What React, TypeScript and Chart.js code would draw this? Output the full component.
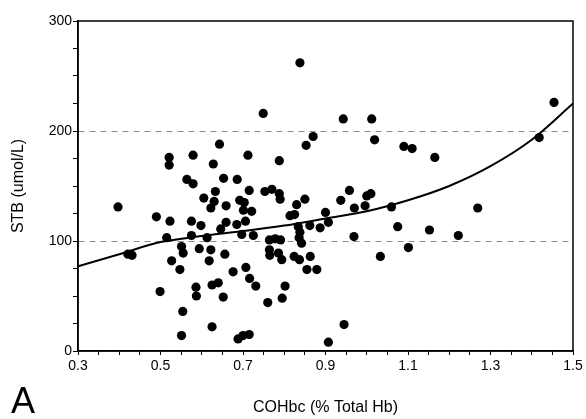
import React, { useEffect, useRef } from "react";
import { Chart, registerables } from "chart.js";

Chart.register(...registerables);

// COHbc (% Total Hb)
const cohbc = [
  0.838, 0.749, 0.943, 1.012, 1.454, 1.418, 0.853, 0.870, 1.019, 1.090,
  1.110, 1.165, 0.788, 0.643, 0.521, 0.521, 0.579, 0.628, 0.712, 0.564,
  0.579, 0.653, 0.686, 0.633, 0.605, 0.630, 0.622, 0.659, 0.692, 0.703,
  0.715, 0.701, 0.721, 0.753, 0.770, 0.788, 0.790, 0.850, 0.830, 0.814,
  0.825, 0.900, 0.937, 0.958, 1.000, 1.010, 0.970, 0.996, 1.060, 1.269,
  1.075, 1.152, 1.222, 1.101, 1.033, 0.397, 0.490, 0.523, 0.575, 0.598,
  0.659, 0.646, 0.685, 0.706, 0.515, 0.575, 0.613, 0.697, 0.725, 0.764,
  0.778, 0.791, 0.834, 0.838, 0.836, 0.842, 0.862, 0.887, 0.907, 0.969,
  0.551, 0.555, 0.594, 0.622, 0.618, 0.656, 0.527, 0.547, 0.676, 0.707,
  0.716, 0.731, 0.499, 0.586, 0.587, 0.625, 0.640, 0.652, 0.554, 0.625,
  0.551, 0.688, 0.700, 0.715, 0.760, 0.795, 0.802, 0.764, 0.765, 0.786,
  0.794, 0.824, 0.837, 0.863, 0.855, 0.879, 0.945, 0.907, 0.421, 0.431,
];

// STB (umol/L)
const stb = [
  262, 216, 211, 211, 226, 194, 187, 195, 192, 186,
  184, 176, 173, 188, 176, 169, 178, 170, 178, 156,
  152, 157, 156, 145, 139, 136, 130, 132, 137, 135,
  146, 128, 127, 145, 147, 143, 138, 138, 133, 123,
  124, 126, 137, 146, 141, 143, 130, 132, 131, 130,
  113, 110, 105, 94, 86, 131, 122, 118, 118, 114,
  117, 111, 115, 118, 103, 105, 103, 106, 105, 101,
  102, 101, 113, 108, 103, 98, 114, 112, 117, 104,
  95, 89, 93, 92, 82, 88, 82, 74, 72, 76,
  66, 59, 54, 58, 50, 60, 62, 49, 36, 22,
  14, 11, 14, 15, 44, 48, 59, 92, 87, 89,
  83, 86, 83, 86, 74, 74, 24, 8, 88, 87,
];

// Fitted curve
const curveX = [0.3, 0.4, 0.5, 0.6, 0.7, 0.8, 0.9, 1.0, 1.1, 1.2, 1.3, 1.4, 1.5];
const curveY = [77, 88, 99, 104.5, 109, 114, 120.5, 127, 137, 150, 168, 192, 225];

const xMajorTicks = [0.3, 0.5, 0.7, 0.9, 1.1, 1.3, 1.5];
const yMajorTicks = [0, 100, 200, 300];
const dashedLevels = [100, 200];

const xTitle = "COHbc (% Total Hb)";
const yTitle = "STB (umol/L)";
const panelLabel = "A";

const FONT = "'Liberation Sans', Arial, Helvetica, sans-serif";

export default function App() {
  const ref = useRef<HTMLCanvasElement | null>(null);

  useEffect(() => {
    if (!ref.current) return;
    Chart.defaults.font.family = FONT;
    Chart.defaults.color = "#000";

    const framePlugin = {
      id: "frame",
      afterDraw(chart: any) {
        const { ctx, chartArea: a } = chart;
        ctx.save();
        ctx.strokeStyle = "#000";
        ctx.lineWidth = 1.5;
        ctx.strokeRect(a.left, a.top, a.right - a.left, a.bottom - a.top);
        ctx.font = `36px ${FONT}`;
        ctx.fillStyle = "#000";
        ctx.textBaseline = "alphabetic";
        ctx.textAlign = "left";
        ctx.fillText(panelLabel, 11, 413);
        ctx.restore();
      },
    };

    const chart = new Chart(ref.current, {
      type: "scatter",
      data: {
        datasets: [
          {
            type: "line",
            data: curveX.map((x, i) => ({ x, y: curveY[i] })),
            borderColor: "#000",
            borderWidth: 2,
            pointRadius: 0,
            cubicInterpolationMode: "monotone",
            fill: false,
          } as any,
          {
            data: cohbc.map((x, i) => ({ x, y: stb[i] })),
            backgroundColor: "#000",
            borderColor: "#000",
            pointRadius: 4.6,
            pointBorderWidth: 0,
          },
        ],
      },
      options: {
        animation: false,
        responsive: false,
        devicePixelRatio: 1,
        layout: { padding: { left: 0, right: 13, top: 21, bottom: 0 } },
        plugins: { legend: { display: false }, tooltip: { enabled: false } },
        scales: {
          x: {
            type: "linear",
            min: 0.3,
            max: 1.5,
            afterBuildTicks: (scale: any) => {
              const t = [];
              for (let i = 0; i <= 24; i++) t.push({ value: +(0.3 + i * 0.05).toFixed(2) });
              scale.ticks = t;
            },
            afterFit: (scale: any) => {
              scale.height = 68;
            },
            ticks: {
              autoSkip: false,
              maxRotation: 0,
              padding: 3,
              font: { size: 14 },
              color: "#000",
              callback: (v: any) => {
                const n = Number(v);
                return xMajorTicks.some((m) => Math.abs(m - n) < 1e-6) ? n.toFixed(1) : "";
              },
            },
            grid: {
              drawOnChartArea: false,
              tickLength: 4,
              tickColor: "#000",
              tickWidth: 1,
            },
            border: { color: "#000", width: 1.5 },
            title: {
              display: true,
              text: xTitle,
              font: { size: 16 },
              color: "#000",
              padding: { top: 0, bottom: 2 },
            },
          },
          y: {
            type: "linear",
            min: 0,
            max: 300,
            afterBuildTicks: (scale: any) => {
              const t = [];
              for (let v = 0; v <= 300; v += 25) t.push({ value: v });
              scale.ticks = t;
            },
            afterFit: (scale: any) => {
              scale.width = 78;
            },
            ticks: {
              autoSkip: false,
              padding: 1,
              font: { size: 14 },
              color: "#000",
              callback: (v: any) => (yMajorTicks.includes(Number(v)) ? String(v) : ""),
            },
            grid: {
              tickLength: 5,
              tickColor: "#000",
              tickWidth: 1,
              lineWidth: 1,
              color: (ctx: any) =>
                ctx.tick && dashedLevels.includes(ctx.tick.value) ? "#8c8c8c" : "rgba(0,0,0,0)",
            },
            border: { color: "#000", width: 1.5, dash: [6, 5] },
            title: {
              display: true,
              text: yTitle,
              font: { size: 16 },
              color: "#000",
              padding: { top: 9, bottom: 0 },
            },
          },
        },
      },
      plugins: [framePlugin],
    });

    return () => chart.destroy();
  }, []);

  return (
    <div style={{ position: "fixed", left: 0, top: 0, width: 586, height: 419, background: "#fff" }}>
      <canvas ref={ref} width={586} height={419} style={{ display: "block" }} />
    </div>
  );
}
